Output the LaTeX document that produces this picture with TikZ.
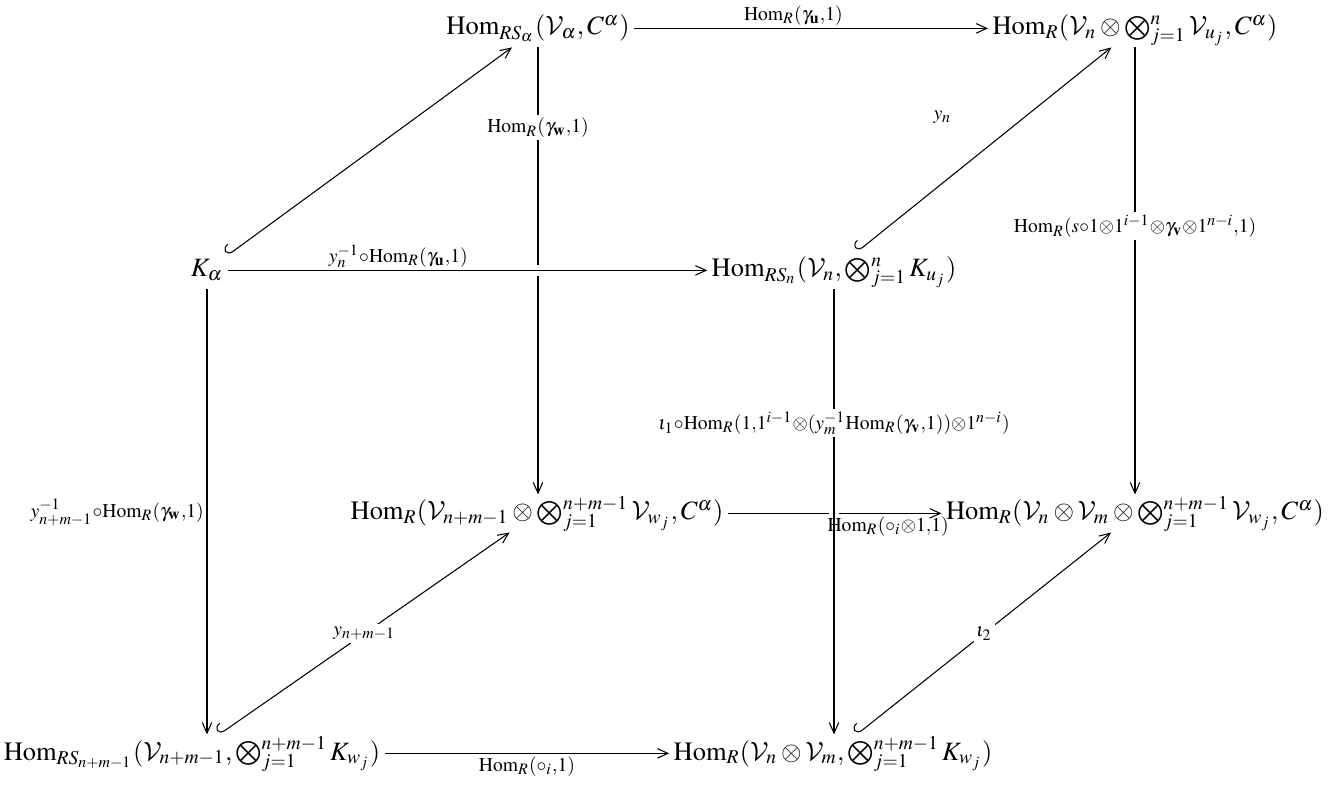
\documentclass[tikz,border=0pt]{standalone}
\usepackage{amsmath}
\usepackage{mathptmx}
\DeclareMathAlphabet{\mathcal}{OMS}{cmsy}{m}{n}
\usetikzlibrary{arrows.meta}
\newcommand{\Hm}{\mathrm{Hom}}
\newcommand{\cV}{\mathcal{V}}
\begin{document}
\begin{tikzpicture}[x=0.378pt,y=-0.378pt,
  obj/.style={anchor=base,inner sep=1.5pt,text height=8pt,text depth=3pt},
  ar/.style={-{Straight Barb[length=4pt,width=3.6pt]}},
  hk/.style={{Hooks[right,length=2.5pt,width=7pt]}-{Straight Barb[length=4pt,width=3.6pt]}},
  over/.style={preaction={draw=white,line width=4pt,arrows=-}},
  lab/.style={inner sep=1pt},
  onl/.style={inner sep=1pt,fill=white}]
\useasboundingbox (0,0) rectangle (1336,786);
\node[obj] (A) at (538,35) {$\Hm_{RS_\alpha}(\cV_\alpha,C^\alpha)$};
\node[obj] (B) at (1135,35) {$\Hm_R(\cV_n\otimes\bigotimes_{j=1}^{n}\cV_{u_j},C^\alpha)$};
\node[obj] (K) at (207,277) {$K_\alpha$};
\node[obj] (D) at (834,277) {$\Hm_{RS_n}(\cV_n,\bigotimes_{j=1}^{n}K_{u_j})$};
\node[obj] (E) at (537,520) {$\Hm_R(\cV_{n+m-1}\otimes\bigotimes_{j=1}^{n+m-1}\cV_{w_j},C^\alpha)$};
\node[obj] (F) at (1135,520) {$\Hm_R(\cV_n\otimes\cV_m\otimes\bigotimes_{j=1}^{n+m-1}\cV_{w_j},C^\alpha)$};
\node[obj] (G) at (192,760) {$\Hm_{RS_{n+m-1}}(\cV_{n+m-1},\bigotimes_{j=1}^{n+m-1}K_{w_j})$};
\node[obj] (H) at (833,760) {$\Hm_R(\cV_n\otimes\cV_m,\bigotimes_{j=1}^{n+m-1}K_{w_j})$};
% back
\draw[ar] (A.east) -- node[lab,above,pos=0.45] {$\scriptstyle\Hm_R(\gamma_{\mathbf u},1)$} (B.west);
\draw[ar] (A.south) -- node[onl,pos=0.18] {$\scriptstyle\Hm_R(\gamma_{\mathbf w},1)$} (A.south |- E.north);
\draw[ar] (B.south) -- node[onl,pos=0.4] {$\scriptstyle\Hm_R(s\circ1\otimes1^{i-1}\otimes\gamma_{\mathbf v}\otimes1^{n-i},1)$} (B.south |- F.north);
\draw[ar] (E.east) -- coordinate[pos=0.75] (efl) (F.west);
% diagonals
\draw[hk] (K) -- (A);
\draw[hk] (D) -- node[lab,pos=0.5,shift={(-42,-32)}] {$\scriptstyle y_n$} (B);
\draw[hk] (G) -- node[onl,midway] {$\scriptstyle y_{n+m-1}$} (E);
\draw[hk] (H) -- node[onl,midway] {$\scriptstyle \iota_2$} (F);
% front
\draw[ar,over] (K.east) -- node[lab,above,pos=0.356] {$\scriptstyle y_n^{-1}\circ\Hm_R(\gamma_{\mathbf u},1)$} (D.west);
\draw[ar] (K.south) -- node[lab,left] {$\scriptstyle y_{n+m-1}^{-1}\circ\Hm_R(\gamma_{\mathbf w},1)$} (K.south |- G.north);
\draw[ar,over] (D.south) -- node[onl,pos=0.3] {$\scriptstyle \iota_1\circ\Hm_R(1,1^{i-1}\otimes(y_m^{-1}\Hm_R(\gamma_{\mathbf v},1))\otimes1^{n-i})$} (D.south |- H.north);
\draw[ar] (G.east) -- node[lab,below] {$\scriptstyle\Hm_R(\circ_i,1)$} (H.west);
\node[lab,below] (efL) at (efl) {$\scriptstyle\Hm_R(\circ_i\otimes1,1)$};
\end{tikzpicture}
\end{document}
